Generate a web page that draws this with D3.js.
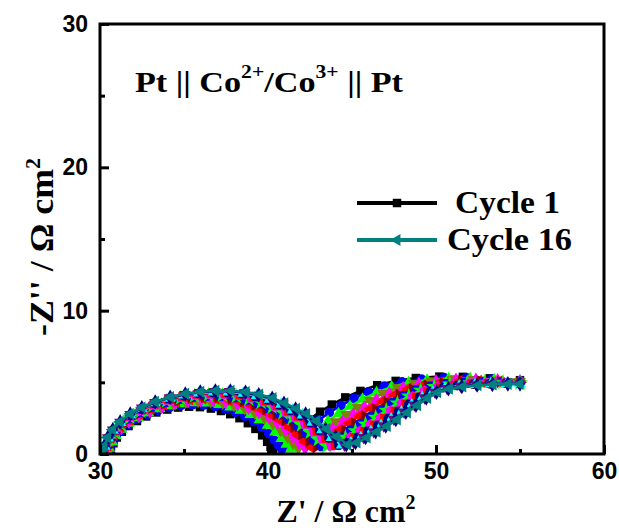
<!DOCTYPE html>
<html>
<head>
<meta charset="utf-8">
<script src="https://cdn.jsdelivr.net/npm/d3@7"></script>
<style>
body { margin: 0; background: #fff; }
svg { display: block; }
.tick text { font-family: "Liberation Sans", Arial, sans-serif; font-weight: bold; font-size: 23px; fill: #000; }
.serif { font-family: "Liberation Serif", "Times New Roman", serif; font-weight: bold; fill: #000; }
</style>
</head>
<body>
<svg id="chart" width="619" height="528"></svg>
<script>
// Nyquist data, [Z', -Z''] in ohm cm2
const xMajor = [30, 40, 50, 60]
const xMinor = [35, 45, 55]
const yMajor = [0, 10, 20, 30]
const yMinor = [5, 15, 25]

const cycle01 = [[30.6,0],[30.65,0.35],[30.8,0.75],[31.0,1.15],[31.3,1.55],[31.7,1.95],[32.2,2.3],[32.75,2.62],[33.35,2.9],[34.0,3.1],[34.65,3.24],[35.3,3.3],[35.95,3.27],[36.6,3.17],[37.2,3.0],[37.75,2.78],[38.3,2.5],[38.8,2.15],[39.25,1.75],[39.65,1.3],[39.95,0.85],[40.15,0.5],[40.3,0.25],[40.8,0.6],[41.3,1.2],[41.85,1.8],[42.45,2.4],[43.1,2.95],[43.8,3.45],[44.6,3.95],[45.5,4.4],[46.5,4.8],[47.6,5.1],[48.8,5.3],[50.2,5.4],[51.6,5.38],[53.2,5.28],[55.0,5.15]]
const cycle02 = [[30.55,0],[30.6,0.37],[30.76,0.8],[30.97,1.22],[31.29,1.63],[31.71,2.05],[32.24,2.41],[32.82,2.74],[33.45,3.03],[34.13,3.23],[34.81,3.37],[35.49,3.43],[36.17,3.41],[36.85,3.31],[37.48,3.14],[38.06,2.91],[38.62,2.63],[39.15,2.27],[39.62,1.88],[40.04,1.42],[40.38,0.96],[40.62,0.58],[40.83,0.3],[41.34,0.62],[41.85,1.19],[42.41,1.77],[43.01,2.35],[43.65,2.88],[44.34,3.38],[45.12,3.88],[45.98,4.34],[46.93,4.74],[47.98,5.03],[49.14,5.23],[50.48,5.33],[51.82,5.32],[53.33,5.23],[55.0,5.12]]
const cycle03 = [[30.49,0],[30.55,0.4],[30.72,0.85],[30.94,1.28],[31.28,1.72],[31.72,2.15],[32.27,2.53],[32.88,2.87],[33.55,3.16],[34.26,3.36],[34.97,3.51],[35.68,3.57],[36.39,3.55],[37.1,3.45],[37.75,3.28],[38.36,3.05],[38.95,2.75],[39.5,2.39],[39.98,2.0],[40.43,1.54],[40.8,1.07],[41.1,0.67],[41.37,0.35],[41.88,0.65],[42.4,1.19],[42.97,1.74],[43.57,2.29],[44.2,2.82],[44.88,3.32],[45.63,3.82],[46.46,4.28],[47.36,4.68],[48.37,4.97],[49.47,5.16],[50.75,5.26],[52.03,5.25],[53.46,5.18],[55.0,5.09]]
const cycle04 = [[30.45,0],[30.51,0.42],[30.68,0.89],[30.92,1.34],[31.27,1.79],[31.73,2.24],[32.3,2.62],[32.94,2.97],[33.64,3.27],[34.37,3.47],[35.11,3.62],[35.84,3.68],[36.58,3.66],[37.31,3.56],[37.98,3.39],[38.62,3.16],[39.22,2.86],[39.79,2.49],[40.29,2.11],[40.76,1.64],[41.16,1.16],[41.49,0.74],[41.81,0.39],[42.33,0.67],[42.86,1.18],[43.43,1.72],[44.03,2.25],[44.66,2.76],[45.33,3.26],[46.06,3.76],[46.86,4.23],[47.72,4.63],[48.69,4.91],[49.75,5.1],[50.98,5.2],[52.21,5.2],[53.57,5.14],[55.0,5.06]]
const cycle05 = [[30.41,0],[30.48,0.44],[30.65,0.92],[30.89,1.39],[31.26,1.85],[31.74,2.32],[32.33,2.71],[32.99,3.06],[33.72,3.36],[34.47,3.57],[35.23,3.72],[35.99,3.78],[36.75,3.77],[37.5,3.67],[38.19,3.5],[38.85,3.26],[39.46,2.95],[40.05,2.58],[40.56,2.2],[41.05,1.73],[41.48,1.24],[41.85,0.8],[42.21,0.42],[42.74,0.69],[43.28,1.18],[43.85,1.69],[44.45,2.21],[45.08,2.71],[45.74,3.21],[46.45,3.71],[47.22,4.19],[48.05,4.59],[48.98,4.86],[50.0,5.04],[51.19,5.14],[52.37,5.15],[53.67,5.11],[55.0,5.03]]
const cycle06 = [[30.37,0],[30.45,0.45],[30.62,0.95],[30.87,1.43],[31.25,1.91],[31.75,2.38],[32.35,2.79],[33.03,3.15],[33.78,3.45],[34.56,3.66],[35.34,3.81],[36.12,3.87],[36.89,3.86],[37.67,3.76],[38.37,3.59],[39.05,3.35],[39.68,3.04],[40.28,2.66],[40.81,2.29],[41.31,1.81],[41.76,1.31],[42.17,0.86],[42.57,0.45],[43.1,0.7],[43.65,1.17],[44.22,1.67],[44.82,2.17],[45.45,2.67],[46.1,3.17],[46.79,3.67],[47.54,4.15],[48.34,4.55],[49.23,4.82],[50.23,4.99],[51.37,5.09],[52.52,5.11],[53.76,5.08],[55.0,5.01]]
const cycle07 = [[30.34,0],[30.42,0.47],[30.6,0.98],[30.86,1.47],[31.24,1.96],[31.76,2.44],[32.37,2.85],[33.07,3.22],[33.84,3.53],[34.64,3.74],[35.43,3.88],[36.23,3.95],[37.02,3.94],[37.82,3.84],[38.53,3.67],[39.23,3.43],[39.87,3.11],[40.48,2.73],[41.02,2.36],[41.54,1.88],[42.01,1.37],[42.44,0.91],[42.88,0.48],[43.41,0.72],[43.97,1.17],[44.55,1.66],[45.15,2.14],[45.77,2.63],[46.41,3.13],[47.09,3.63],[47.82,4.11],[48.59,4.51],[49.46,4.78],[50.42,4.95],[51.53,5.05],[52.64,5.07],[53.84,5.05],[55.0,4.99]]
const cycle08 = [[30.31,0],[30.39,0.48],[30.57,1.01],[30.84,1.51],[31.24,2.01],[31.77,2.5],[32.4,2.92],[33.11,3.29],[33.9,3.6],[34.72,3.82],[35.53,3.96],[36.34,4.03],[37.15,4.02],[37.97,3.92],[38.7,3.75],[39.41,3.51],[40.06,3.18],[40.69,2.8],[41.23,2.43],[41.76,1.95],[42.26,1.44],[42.72,0.96],[43.19,0.51],[43.73,0.73],[44.29,1.17],[44.87,1.64],[45.47,2.11],[46.09,2.59],[46.73,3.09],[47.4,3.59],[48.1,4.08],[48.84,4.48],[49.68,4.74],[50.62,4.91],[51.7,5.01],[52.77,5.04],[53.92,5.02],[55.0,4.97]]
const cycle09 = [[30.28,0],[30.36,0.49],[30.55,1.04],[30.82,1.55],[31.23,2.05],[31.77,2.56],[32.42,2.98],[33.15,3.36],[33.96,3.68],[34.79,3.89],[35.62,4.04],[36.45,4.11],[37.28,4.1],[38.11,4.01],[38.86,3.83],[39.59,3.59],[40.24,3.26],[40.89,2.87],[41.45,2.51],[41.99,2.02],[42.51,1.5],[42.99,1.0],[43.5,0.54],[44.04,0.74],[44.61,1.16],[45.2,1.62],[45.8,2.08],[46.41,2.55],[47.04,3.05],[47.7,3.55],[48.38,4.04],[49.09,4.44],[49.9,4.7],[50.82,4.87],[51.86,4.97],[52.9,5.0],[53.99,4.99],[55.0,4.96]]
const cycle10 = [[30.25,0],[30.34,0.51],[30.53,1.06],[30.81,1.58],[31.22,2.1],[31.78,2.61],[32.43,3.04],[33.18,3.42],[34.01,3.74],[34.86,3.96],[35.7,4.11],[36.55,4.17],[37.39,4.17],[38.24,4.08],[38.99,3.9],[39.74,3.65],[40.41,3.32],[41.06,2.93],[41.63,2.57],[42.19,2.08],[42.72,1.55],[43.23,1.05],[43.77,0.56],[44.31,0.76],[44.89,1.16],[45.48,1.61],[46.08,2.05],[46.69,2.52],[47.31,3.02],[47.95,3.52],[48.62,4.01],[49.31,4.41],[50.1,4.67],[50.98,4.83],[51.99,4.93],[53.0,4.97],[54.06,4.97],[55.0,4.94]]
const cycle11 = [[30.23,0],[30.32,0.52],[30.51,1.08],[30.79,1.61],[31.22,2.13],[31.78,2.66],[32.45,3.09],[33.21,3.48],[34.06,3.8],[34.91,4.01],[35.77,4.16],[36.63,4.23],[37.49,4.23],[38.34,4.13],[39.11,3.95],[39.87,3.71],[40.54,3.37],[41.21,2.98],[41.78,2.62],[42.35,2.13],[42.9,1.6],[43.43,1.08],[43.99,0.58],[44.54,0.77],[45.12,1.16],[45.71,1.59],[46.31,2.03],[46.92,2.49],[47.54,2.99],[48.17,3.49],[48.82,3.99],[49.49,4.39],[50.26,4.64],[51.12,4.8],[52.11,4.9],[53.09,4.94],[54.11,4.95],[55.0,4.93]]
const cycle12 = [[30.2,0],[30.3,0.53],[30.49,1.1],[30.78,1.63],[31.21,2.17],[31.79,2.7],[32.46,3.14],[33.23,3.53],[34.1,3.85],[34.97,4.07],[35.84,4.22],[36.71,4.29],[37.58,4.28],[38.45,4.19],[39.22,4.01],[39.99,3.77],[40.68,3.42],[41.35,3.03],[41.93,2.67],[42.51,2.18],[43.07,1.64],[43.63,1.12],[44.22,0.6],[44.76,0.78],[45.35,1.16],[45.94,1.58],[46.54,2.0],[47.15,2.47],[47.76,2.97],[48.38,3.47],[49.02,3.96],[49.67,4.36],[50.42,4.62],[51.26,4.77],[52.22,4.87],[53.18,4.91],[54.17,4.93],[55.0,4.91]]
const cycle13 = [[30.19,0],[30.28,0.53],[30.48,1.12],[30.77,1.66],[31.21,2.19],[31.79,2.73],[32.48,3.17],[33.26,3.57],[34.13,3.89],[35.01,4.11],[35.89,4.26],[36.77,4.33],[37.65,4.33],[38.53,4.24],[39.32,4.06],[40.1,3.81],[40.78,3.47],[41.47,3.07],[42.06,2.72],[42.64,2.22],[43.22,1.68],[43.78,1.14],[44.39,0.62],[44.94,0.78],[45.53,1.15],[46.13,1.57],[46.73,1.99],[47.33,2.44],[47.94,2.94],[48.56,3.44],[49.18,3.94],[49.81,4.34],[50.54,4.59],[51.38,4.75],[52.32,4.85],[53.26,4.89],[54.21,4.91],[55.0,4.9]]
const cycle14 = [[30.17,0],[30.27,0.54],[30.47,1.13],[30.76,1.68],[31.2,2.22],[31.8,2.76],[32.49,3.21],[33.28,3.6],[34.16,3.93],[35.05,4.15],[35.94,4.3],[36.83,4.37],[37.72,4.37],[38.61,4.28],[39.4,4.1],[40.19,3.85],[40.88,3.5],[41.57,3.11],[42.16,2.75],[42.75,2.26],[43.34,1.71],[43.92,1.17],[44.55,0.63],[45.1,0.79],[45.69,1.15],[46.29,1.56],[46.89,1.97],[47.49,2.43],[48.1,2.93],[48.71,3.43],[49.32,3.92],[49.94,4.32],[50.66,4.58],[51.47,4.73],[52.4,4.83],[53.32,4.87],[54.25,4.9],[55.0,4.89]]
const cycle15 = [[30.16,0],[30.26,0.55],[30.46,1.14],[30.76,1.69],[31.2,2.24],[31.8,2.78],[32.49,3.23],[33.29,3.63],[34.18,3.96],[35.08,4.18],[35.97,4.33],[36.87,4.4],[37.76,4.4],[38.66,4.31],[39.45,4.13],[40.25,3.88],[40.95,3.53],[41.64,3.13],[42.24,2.78],[42.84,2.28],[43.43,1.73],[44.02,1.19],[44.66,0.64],[45.21,0.8],[45.81,1.15],[46.41,1.56],[47.01,1.96],[47.61,2.41],[48.21,2.91],[48.81,3.41],[49.42,3.91],[50.03,4.31],[50.74,4.56],[51.54,4.71],[52.45,4.81],[53.36,4.86],[54.28,4.89],[55.0,4.89]]
const cycle16 = [[30.15,0],[30.25,0.55],[30.45,1.15],[30.75,1.7],[31.2,2.25],[31.8,2.8],[32.5,3.25],[33.3,3.65],[34.2,3.98],[35.1,4.2],[36.0,4.35],[36.9,4.42],[37.8,4.42],[38.7,4.33],[39.5,4.15],[40.3,3.9],[41.0,3.55],[41.7,3.15],[42.3,2.8],[42.9,2.3],[43.5,1.75],[44.1,1.2],[44.75,0.65],[45.3,0.8],[45.9,1.15],[46.5,1.55],[47.1,1.95],[47.7,2.4],[48.3,2.9],[48.9,3.4],[49.5,3.9],[50.1,4.3],[50.8,4.55],[51.6,4.7],[52.5,4.8],[53.4,4.85],[54.3,4.88],[55.0,4.88]]

const cycleColors = ["#000000", "#0000ff", "#00ff00", "#808000", "#ff00ff", "#ff0000", "#800000", "#0000ff",
                     "#00ff00", "#ff00ff", "#ff0000", "#000080", "#00ffff", "#800080", "#000080", "#008080"]
const cycleSymbols = ["square", "circle", "up", "down", "diamond", "left", "right", "hexagon",
                      "star", "pentagon", "square", "circle", "up", "down", "diamond", "left"]
const legendLabels = ["Cycle 1", "Cycle 16"]

const cycles = [cycle01, cycle02, cycle03, cycle04, cycle05, cycle06, cycle07, cycle08,
                cycle09, cycle10, cycle11, cycle12, cycle13, cycle14, cycle15, cycle16]

const svg = d3.select("#chart")
const pLeft = 100, pRight = 604, pTop = 24, pBottom = 454

const x = d3.scaleLinear().domain([30, 60]).range([pLeft, pRight])
const y = d3.scaleLinear().domain([0, 30]).range([pBottom, pTop])

// polygon symbols that d3 does not ship
function polygon(n, rot) {
    return {
        draw: function(ctx, size) {
            var r = Math.sqrt(size / (n * Math.sin(2 * Math.PI / n) / 2))
            for (var i = 0; i < n; i++) {
                var a = rot + i * 2 * Math.PI / n
                if (i == 0) ctx.moveTo(r * Math.cos(a), r * Math.sin(a))
                else ctx.lineTo(r * Math.cos(a), r * Math.sin(a))
            }
            ctx.closePath()
        }
    }
}

// type, rotation, area
const symbolTable = {
    square: [d3.symbolSquare, 0, 72],
    circle: [d3.symbolCircle, 0, 72],
    up: [d3.symbolTriangle, 0, 62],
    down: [d3.symbolTriangle, 180, 62],
    diamond: [d3.symbolDiamond, 0, 70],
    left: [d3.symbolTriangle, -90, 62],
    right: [d3.symbolTriangle, 90, 62],
    hexagon: [polygon(6, 0), 0, 72],
    star: [d3.symbolStar, 0, 80],
    pentagon: [polygon(5, -Math.PI / 2), 0, 72]
}

svg.append("defs").append("clipPath").attr("id", "plotclip")
    .append("rect")
    .attr("x", pLeft).attr("y", pTop)
    .attr("width", pRight - pLeft).attr("height", pBottom - pTop)

const plot = svg.append("g").attr("clip-path", "url(#plotclip)")

const line = d3.line()
    .x(function(d) { return x(d[0]) })
    .y(function(d) { return y(d[1]) })

cycles.forEach(function(data, i) {
    var g = plot.append("g")
    g.append("path")
        .datum(data)
        .attr("d", line)
        .attr("fill", "none")
        .attr("stroke", cycleColors[i])
        .attr("stroke-width", 2.5)
        .attr("stroke-linejoin", "round")
    var s = symbolTable[cycleSymbols[i]]
    g.selectAll("path.pt")
        .data(data)
        .enter()
        .append("path")
        .attr("class", "pt")
        .attr("d", d3.symbol().type(s[0]).size(s[2])())
        .attr("transform", function(d) { return "translate(" + x(d[0]) + "," + y(d[1]) + ") rotate(" + s[1] + ")" })
        .attr("fill", cycleColors[i])
})

// axes, ticks pointing inwards
svg.append("g")
    .attr("transform", "translate(0," + pBottom + ")")
    .call(d3.axisBottom(x).tickValues(xMajor).tickSize(-9).tickPadding(9).tickFormat(d3.format("d")))
    .call(function(g) { g.select(".domain").remove() })
svg.append("g")
    .attr("transform", "translate(0," + pBottom + ")")
    .call(d3.axisBottom(x).tickValues(xMinor).tickSize(-5).tickFormat(""))
    .call(function(g) { g.select(".domain").remove() })
svg.append("g")
    .attr("transform", "translate(" + pLeft + ",0)")
    .call(d3.axisLeft(y).tickValues(yMajor).tickSize(-9).tickPadding(12).tickFormat(d3.format("d")))
    .call(function(g) { g.select(".domain").remove() })
svg.append("g")
    .attr("transform", "translate(" + pLeft + ",0)")
    .call(d3.axisLeft(y).tickValues(yMinor).tickSize(-5).tickFormat(""))
    .call(function(g) { g.select(".domain").remove() })

svg.selectAll(".tick line").attr("stroke", "#000").attr("stroke-width", 3)

svg.append("rect")
    .attr("x", pLeft).attr("y", pTop)
    .attr("width", pRight - pLeft).attr("height", pBottom - pTop)
    .attr("fill", "none")
    .attr("stroke", "#000")
    .attr("stroke-width", 3)

// axis titles
const xt = svg.append("text").attr("class", "serif")
    .attr("x", 346).attr("y", 522)
    .attr("text-anchor", "middle")
    .attr("textLength", 139).attr("lengthAdjust", "spacingAndGlyphs")
    .style("font-size", "32px")
xt.append("tspan").text("Z' / \u03A9 cm")
xt.append("tspan").attr("dy", -13).style("font-size", "20px").text("2")

const yt = svg.append("text").attr("class", "serif")
    .attr("transform", "translate(53,247) rotate(-90)")
    .attr("text-anchor", "middle")
    .attr("textLength", 178).attr("lengthAdjust", "spacingAndGlyphs")
    .style("font-size", "33px")
yt.append("tspan").text("-Z'' / \u03A9 cm")
yt.append("tspan").attr("dy", -13).style("font-size", "20px").text("2")

// cell label
const tt = svg.append("text").attr("class", "serif")
    .attr("x", 135).attr("y", 92)
    .attr("textLength", 268).attr("lengthAdjust", "spacingAndGlyphs")
    .style("font-size", "30px")
tt.append("tspan").text("Pt || Co")
tt.append("tspan").attr("dy", -14).style("font-size", "19px").text("2+")
tt.append("tspan").attr("dy", 14).text("/Co")
tt.append("tspan").attr("dy", -14).style("font-size", "19px").text("3+")
tt.append("tspan").attr("dy", 14).text(" || Pt")

// legend
const legendIdx = [0, 15]
const legendY = [203, 240]
const legendTextX = [455, 447]
const legendTextW = [105, 125]
legendIdx.forEach(function(ci, k) {
    var g = svg.append("g")
    g.append("line")
        .attr("x1", 357).attr("x2", 437)
        .attr("y1", legendY[k]).attr("y2", legendY[k])
        .attr("stroke", cycleColors[ci]).attr("stroke-width", 4)
    var s = symbolTable[cycleSymbols[ci]]
    g.append("path")
        .attr("d", d3.symbol().type(s[0]).size(s[2])())
        .attr("transform", "translate(397," + legendY[k] + ") rotate(" + s[1] + ")")
        .attr("fill", cycleColors[ci])
    g.append("text").attr("class", "serif")
        .attr("x", legendTextX[k]).attr("y", legendY[k] + 10)
        .attr("textLength", legendTextW[k]).attr("lengthAdjust", "spacingAndGlyphs")
        .style("font-size", "31px")
        .text(legendLabels[k])
})
</script>
</body>
</html>
